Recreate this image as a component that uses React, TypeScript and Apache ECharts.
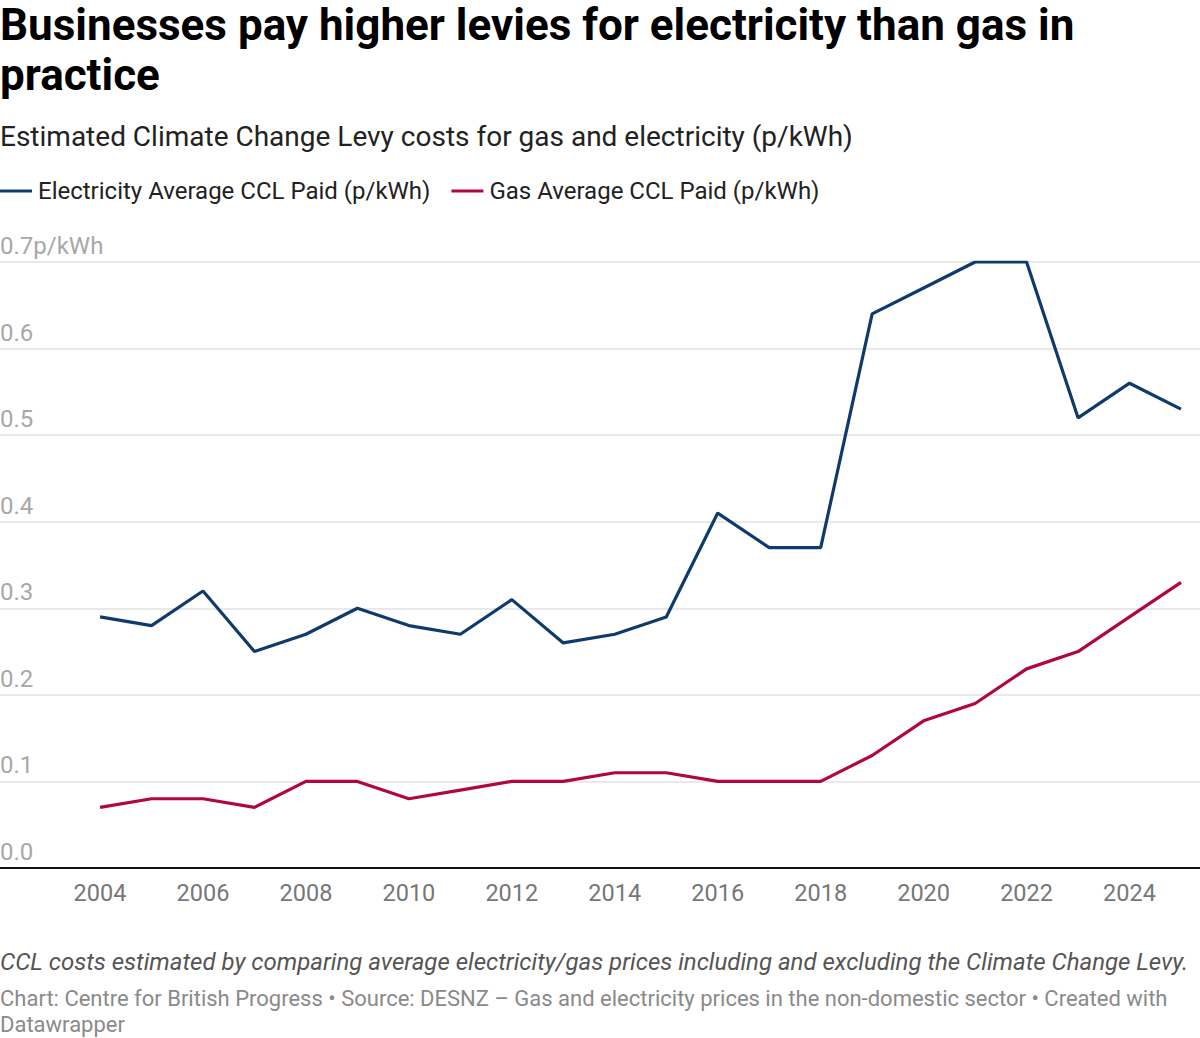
import React, { useEffect, useRef } from "react";
import * as echarts from "echarts";

const years = [2004, 2005, 2006, 2007, 2008, 2009, 2010, 2011, 2012, 2013, 2014, 2015, 2016, 2017, 2018, 2019, 2020, 2021, 2022, 2023, 2024, 2025];
const electricity = [0.29, 0.28, 0.32, 0.25, 0.27, 0.30, 0.28, 0.27, 0.31, 0.26, 0.27, 0.29, 0.41, 0.37, 0.37, 0.64, 0.67, 0.70, 0.70, 0.52, 0.56, 0.53];
const gas = [0.07, 0.08, 0.08, 0.07, 0.10, 0.10, 0.08, 0.09, 0.10, 0.10, 0.11, 0.11, 0.10, 0.10, 0.10, 0.13, 0.17, 0.19, 0.23, 0.25, 0.29, 0.33];
const xTicks = [2004, 2006, 2008, 2010, 2012, 2014, 2016, 2018, 2020, 2022, 2024];
const yTicks = [0, 0.1, 0.2, 0.3, 0.4, 0.5, 0.6, 0.7];

const seriesNames = ["Electricity Average CCL Paid (p/kWh)", "Gas Average CCL Paid (p/kWh)"];
const title = "Businesses pay higher levies for electricity than gas in\npractice";
const subtitle = "Estimated Climate Change Levy costs for gas and electricity (p/kWh)";
const note = "CCL costs estimated by comparing average electricity/gas prices including and excluding the Climate Change Levy.";
const source = "Chart: Centre for British Progress • Source: DESNZ – Gas and electricity prices in the non-domestic sector • Created with\nDatawrapper";

const FONT = "Roboto, 'Noto Sans', sans-serif";
const NAVY = "#0f3a6c";
const CRIMSON = "#b1073f";

export default function App() {
  const ref = useRef<HTMLDivElement>(null);

  useEffect(() => {
    document.body.style.margin = "0";
    if (!ref.current) return;
    const chart = echarts.init(ref.current, null, { renderer: "svg" });

    const pair = (vals: number[]) => years.map((y, i) => [y, vals[i]]);

    chart.setOption({
      animation: false,
      backgroundColor: "#ffffff",
      textStyle: { fontFamily: FONT },
      title: [
        {
          text: title,
          left: 0,
          top: 0,
          padding: 0,
          textStyle: { fontFamily: FONT, fontSize: 44, fontWeight: "bold", color: "#000000", lineHeight: 50 },
        },
        {
          text: subtitle,
          left: 0,
          top: 120,
          padding: 0,
          textStyle: { fontFamily: FONT, fontSize: 28, fontWeight: "normal", color: "#222222", lineHeight: 32 },
        },
        {
          text: note,
          left: 0,
          top: 948,
          padding: 0,
          textStyle: { fontFamily: FONT, fontSize: 24, fontStyle: "italic", fontWeight: "normal", color: "#555555", lineHeight: 28 },
        },
        {
          text: source,
          left: 0,
          top: 985,
          padding: 0,
          textStyle: { fontFamily: FONT, fontSize: 22, fontWeight: "normal", color: "#8a8a8a", lineHeight: 26 },
        },
      ],
      legend: {
        left: 0,
        top: 179,
        padding: 0,
        itemWidth: 32,
        itemHeight: 3,
        itemGap: 21,
        icon: "rect",
        textStyle: { fontFamily: FONT, fontSize: 24, color: "#222222", padding: [0, 0, 0, 1] },
        data: seriesNames,
      },
      grid: { left: 0, right: 0, top: 262, bottom: 170, containLabel: false, outerBoundsMode: "none" },
      xAxis: {
        type: "value",
        min: 2004 - 100 / 51.45,
        max: 2025 + 19 / 51.45,
        axisLine: { show: true, lineStyle: { color: "#111111", width: 2 } },
        axisTick: { show: false },
        splitLine: { show: false },
        axisLabel: {
          customValues: xTicks,
          fontFamily: FONT,
          fontSize: 23.5,
          color: "#777777",
          margin: 13,
          formatter: (v: number) => String(Math.round(v)),
        },
      },
      yAxis: {
        type: "value",
        min: 0,
        max: 0.7,
        interval: 0.1,
        axisLine: { show: false },
        axisTick: { show: false },
        splitLine: { show: true, lineStyle: { color: "#e2e2e2", width: 1.5 } },
        axisLabel: {
          inside: true,
          margin: 0,
          verticalAlign: "bottom",
          padding: [0, 0, 4, 0],
          fontFamily: FONT,
          fontSize: 24,
          color: "#a8a8a8",
          formatter: (v: number) => {
            const t = yTicks.find((k) => Math.abs(k - v) < 1e-6);
            const s = (t ?? v).toFixed(1);
            return Math.abs(v - 0.7) < 1e-6 ? s + "p/kWh" : s;
          },
        },
      },
      series: [
        {
          name: seriesNames[0],
          type: "line",
          data: pair(electricity),
          symbol: "none",
          lineStyle: { color: NAVY, width: 3.2 },
          itemStyle: { color: NAVY },
          z: 3,
        },
        {
          name: seriesNames[1],
          type: "line",
          data: pair(gas),
          symbol: "none",
          lineStyle: { color: CRIMSON, width: 3.2 },
          itemStyle: { color: CRIMSON },
          z: 2,
        },
      ],
    });

    return () => chart.dispose();
  }, []);

  return <div ref={ref} style={{ width: 1200, height: 1038 }} />;
}
